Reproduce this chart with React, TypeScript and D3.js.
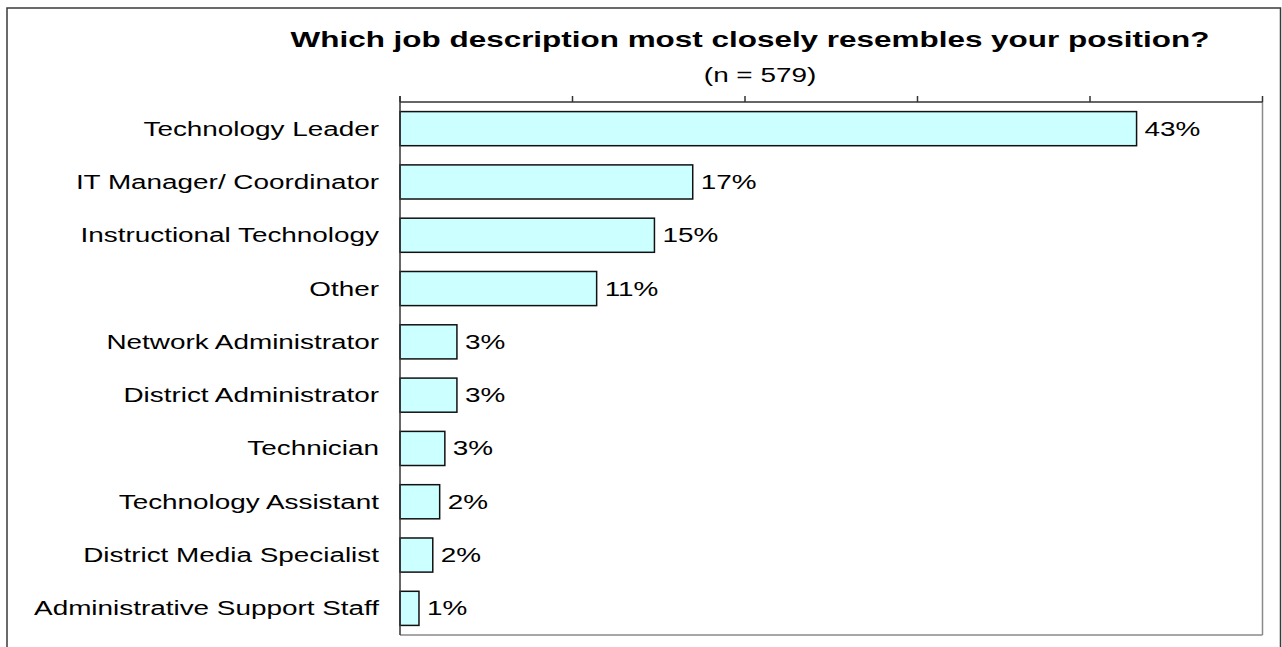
import React from "react";
import * as d3 from "d3";

const categories = [
  "Technology Leader",
  "IT Manager/ Coordinator",
  "Instructional Technology",
  "Other",
  "Network Administrator",
  "District Administrator",
  "Technician",
  "Technology Assistant",
  "District Media Specialist",
  "Administrative Support Staff",
];
const values = [42.7, 16.97, 14.75, 11.4, 3.3, 3.3, 2.6, 2.3, 1.9, 1.1];
const valueLabels = ["43%", "17%", "15%", "11%", "3%", "3%", "3%", "2%", "2%", "1%"];
const xTicks = [0, 10, 20, 30, 40, 50];
const title = "Which job description most closely resembles your position?";
const subtitle = "(n = 579)";

const W = 1282;
const H = 647;
const SX = 1.43;
const FONT = "'Liberation Sans', Arial, Helvetica, sans-serif";

export default function App() {
  const x = d3.scaleLinear().domain([0, 50]).range([400, 1262.5]);
  const y = d3
    .scaleBand<string>()
    .domain(categories)
    .range([102, 635])
    .paddingInner(0.36)
    .paddingOuter(0.18);
  const [x0, x1] = x.range();
  const [y0, y1] = y.range();

  return (
    <svg
      width={W}
      height={H}
      style={{ position: "absolute", left: 0, top: 0, display: "block", background: "#fff" }}
    >
      <rect x={7} y={8} width={1273.5} height={660} fill="#fff" stroke="#3a3a3a" strokeWidth={1.5} />
      <line x1={x1} y1={y0} x2={x1} y2={y1} stroke="#8a8a8a" strokeWidth={1.5} />
      <line x1={x0} y1={y1} x2={x1} y2={y1} stroke="#8a8a8a" strokeWidth={1.5} />
      {categories.map((c, i) => (
        <rect
          key={c}
          x={x(0)}
          y={y(c)}
          width={x(values[i]) - x(0)}
          height={y.bandwidth()}
          fill="#CCFFFF"
          stroke="#111"
          strokeWidth={1.5}
        />
      ))}
      <line x1={x0} y1={y0} x2={x1} y2={y0} stroke="#333" strokeWidth={1.5} />
      <line x1={x0} y1={y0 - 6} x2={x0} y2={y1} stroke="#333" strokeWidth={1.5} />
      {xTicks.map((t) => (
        <line key={t} x1={x(t)} y1={y0 - 6} x2={x(t)} y2={y0} stroke="#333" strokeWidth={1.5} />
      ))}
      {categories.map((c) => (
        <text
          key={c}
          transform={`translate(379, ${(y(c) as number) + y.bandwidth() / 2 + 7}) scale(${SX},1)`}
          textAnchor="end"
          fontFamily={FONT}
          fontSize={19.5}
          fill="#000"
        >
          {c}
        </text>
      ))}
      {categories.map((c, i) => (
        <text
          key={c}
          transform={`translate(${x(values[i]) + 8}, ${(y(c) as number) + y.bandwidth() / 2 + 7}) scale(${SX},1)`}
          fontFamily={FONT}
          fontSize={19.5}
          fill="#000"
        >
          {valueLabels[i]}
        </text>
      ))}
      <text
        transform={`translate(750, 47) scale(${SX},1)`}
        textAnchor="middle"
        fontFamily={FONT}
        fontSize={22}
        fontWeight="bold"
        fill="#000"
      >
        {title}
      </text>
      <text
        transform={`translate(760, 82) scale(${SX},1)`}
        textAnchor="middle"
        fontFamily={FONT}
        fontSize={19.5}
        fill="#000"
      >
        {subtitle}
      </text>
    </svg>
  );
}
